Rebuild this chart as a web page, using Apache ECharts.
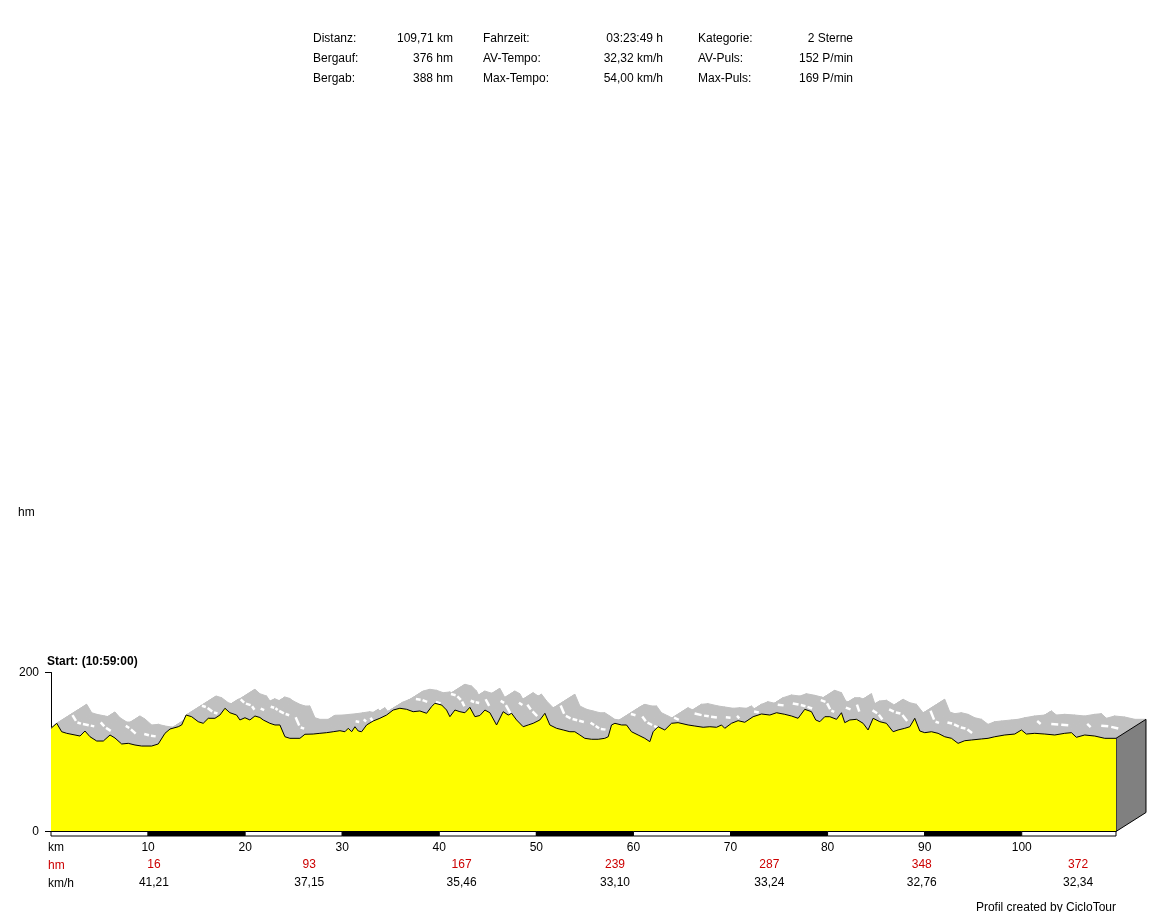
<!DOCTYPE html>
<html>
<head>
<meta charset="utf-8">
<script src="https://cdn.jsdelivr.net/npm/echarts@6/dist/echarts.min.js"></script>
<style>
html,body{margin:0;padding:0;background:#fff;}
#chart{width:1166px;height:912px;}
</style>
</head>
<body>
<div id="chart"></div>
<script>
// ---- data ----
const kmPts = [0, 0.59, 1.10, 1.62, 2.47, 2.99, 3.50, 4.02, 4.71, 5.39,
  6.08, 6.59, 7.28, 7.96, 8.65, 9.34, 10.37, 11.05, 11.74, 12.26,
  13.11, 13.46, 13.92, 14.49, 15.17, 15.68, 16.20, 16.89, 17.40, 17.92,
  18.43, 19.12, 19.46, 19.98, 20.49, 21.01, 21.52, 21.86, 22.55, 23.07,
  23.58, 24.10, 24.61, 25.64, 26.16, 27.01, 27.70, 28.39, 29.07, 29.76,
  30.28, 30.62, 30.97, 31.31, 31.65, 32.00, 32.51, 33.19, 33.88, 34.57,
  35.25, 35.94, 36.63, 37.31, 38.00, 38.69, 39.20, 39.55, 40.24, 40.75,
  41.09, 41.61, 42.12, 42.64, 43.15, 43.67, 44.18, 44.70, 45.21, 45.90,
  46.58, 47.10, 47.45, 47.96, 48.64, 49.16, 49.67, 50.36, 50.88, 51.39,
  52.08, 52.76, 53.45, 53.96, 54.48, 54.99, 55.68, 56.37, 57.05, 57.40,
  57.74, 58.09, 58.77, 59.29, 59.80, 60.48, 61.17, 61.69, 62.03, 62.54,
  63.23, 63.92, 64.60, 65.63, 66.32, 67.18, 67.87, 68.56, 69.07, 69.41,
  70.10, 70.78, 71.47, 72.33, 73.19, 74.05, 74.74, 75.59, 76.28, 76.96,
  77.65, 78.34, 78.78, 79.20, 79.71, 80.23, 80.92, 81.43, 81.77, 82.29,
  82.98, 83.66, 84.17, 84.69, 85.38, 86.06, 86.75, 87.26, 87.95, 88.47,
  88.98, 89.50, 90.01, 90.70, 91.38, 92.07, 92.76, 93.44, 94.13, 94.82,
  95.85, 96.53, 97.22, 98.25, 99.28, 99.97, 100.48, 101.34, 102.37, 103.40,
  104.43, 105.12, 105.63, 106.49, 107.52, 108.55, 109.71];
const hmPts = [129.8, 136.1, 125.5, 123.5, 121.4, 120.1, 126.4, 119.2, 113.8, 113.8,
  121.4, 117.6, 110.1, 110.9, 108.8, 107.5, 107.5, 110.1, 123.5, 128.9,
  131.8, 134.0, 146.5, 144.4, 138.1, 136.1, 142.4, 142.4, 146.5, 155.0,
  149.4, 146.5, 140.3, 143.1, 140.3, 145.3, 143.4, 140.3, 136.1, 134.0,
  134.0, 119.2, 117.2, 117.2, 122.3, 122.6, 123.5, 124.3, 125.5, 126.8,
  125.5, 129.8, 125.5, 131.8, 126.4, 125.5, 134.0, 139.0, 142.4, 146.5,
  152.8, 155.0, 153.7, 150.7, 151.6, 148.7, 157.0, 161.3, 159.1, 152.8,
  144.4, 152.8, 150.7, 149.4, 156.2, 144.4, 145.9, 152.8, 149.4, 134.0,
  150.7, 146.5, 148.7, 140.3, 131.8, 134.0, 136.1, 140.3, 148.7, 134.0,
  129.8, 127.7, 125.5, 125.5, 121.4, 117.2, 116.0, 116.0, 117.2, 119.2,
  134.0, 136.1, 134.0, 134.0, 125.5, 121.4, 117.2, 113.0, 125.5, 131.8,
  127.7, 136.1, 136.9, 134.0, 132.7, 131.1, 131.8, 131.1, 134.0, 129.8,
  136.1, 139.4, 137.4, 144.4, 147.8, 146.5, 149.4, 147.4, 145.3, 142.4,
  153.7, 150.7, 140.3, 138.1, 144.4, 144.4, 141.1, 149.4, 136.9, 140.3,
  141.1, 136.1, 127.7, 142.4, 138.1, 136.1, 125.5, 127.7, 129.8, 131.8,
  142.4, 126.4, 124.3, 125.5, 123.5, 119.2, 117.2, 110.9, 114.2, 115.1,
  116.4, 117.2, 119.2, 121.4, 122.6, 127.7, 122.6, 123.5, 122.6, 121.4,
  123.5, 124.3, 118.5, 121.4, 120.1, 117.2, 117.2];

const totalKm = 109.71;
const kmTicks = [0, 10, 20, 30, 40, 50, 60, 70, 80, 90, 100];
const statKm = [10.6, 26.6, 42.3, 58.1, 74.0, 89.7, 105.8];
const statHm = ['16', '93', '167', '239', '287', '348', '372'];
const statSpeed = ['41,21', '37,15', '35,46', '33,10', '33,24', '32,76', '32,34'];

const headLabels1 = ['Distanz:', 'Bergauf:', 'Bergab:'];
const headValues1 = ['109,71 km', '376 hm', '388 hm'];
const headLabels2 = ['Fahrzeit:', 'AV-Tempo:', 'Max-Tempo:'];
const headValues2 = ['03:23:49 h', '32,32 km/h', '54,00 km/h'];
const headLabels3 = ['Kategorie:', 'AV-Puls:', 'Max-Puls:'];
const headValues3 = ['2 Sterne', '152 P/min', '169 P/min'];

// ---- styling / depth of pseudo-3D ribbon (in data units) ----
const DEPTH_KM = 3.09;
const DEPTH_HM = 23.9;
const FONT = '"Liberation Sans", Arial, sans-serif';

const chart = echarts.init(document.getElementById('chart'), null, {renderer: 'canvas'});

function coordAt(api, k, h, t) {
  return api.coord([k + DEPTH_KM * t, h + DEPTH_HM * t]);
}

const segIdx = kmPts.slice(0, -1).map((_, i) => i);

function renderBand(params, api) {
  const i = params.dataIndex;
  const a = coordAt(api, kmPts[i], hmPts[i], 0);
  const b = coordAt(api, kmPts[i + 1], hmPts[i + 1], 0);
  const b2 = coordAt(api, kmPts[i + 1], hmPts[i + 1], 1);
  const a2 = coordAt(api, kmPts[i], hmPts[i], 1);
  return {
    type: 'polygon',
    shape: {points: [a, b, b2, a2]},
    style: {fill: '#c0c0c0', stroke: '#c0c0c0', lineWidth: 1}
  };
}

function renderStreak(params, api) {
  const i = params.dataIndex;
  const dk = kmPts[i + 1] - kmPts[i];
  const slope = (hmPts[i + 1] - hmPts[i]) / dk;
  if (slope > -0.5) return null;
  const t = 0.5;
  const k0 = kmPts[i] + dk * 0.15, k1 = kmPts[i] + dk * 0.85;
  const h0 = hmPts[i] + (hmPts[i + 1] - hmPts[i]) * 0.15;
  const h1 = hmPts[i] + (hmPts[i + 1] - hmPts[i]) * 0.85;
  const p1 = coordAt(api, k0, h0, t);
  const p2 = coordAt(api, k1, h1, t);
  return {
    type: 'line',
    shape: {x1: p1[0], y1: p1[1], x2: p2[0], y2: p2[1]},
    style: {stroke: '#ffffff', lineWidth: 2.5}
  };
}

function renderFace(params, api) {
  const n = kmPts.length - 1;
  const k = kmPts[n], h = hmPts[n];
  const p1 = coordAt(api, k, 0, 0);
  const p2 = coordAt(api, k, h, 0);
  const p3 = coordAt(api, k, h, 1);
  const p4 = coordAt(api, k, 0, 1);
  return {
    type: 'polygon',
    shape: {points: [p1, p2, p3, p4]},
    style: {fill: '#808080', stroke: '#000', lineWidth: 1}
  };
}

function renderScaleBar(params, api) {
  const i = params.dataIndex;
  const s = kmTicks[i];
  const e = Math.min(s + 10, totalKm);
  const p1 = api.coord([s, 0]);
  const p2 = api.coord([e, 0]);
  return {
    type: 'rect',
    shape: {x: p1[0], y: p1[1], width: p2[0] - p1[0], height: 4.5},
    style: {fill: i % 2 === 0 ? '#ffffff' : '#000000', stroke: '#000', lineWidth: 1}
  };
}

function renderStats(params, api) {
  const i = params.dataIndex;
  const p = api.coord([statKm[i], 0]);
  return {
    type: 'group',
    children: [
      {type: 'text', style: {text: statHm[i], x: p[0], y: p[1] + 33, align: 'center', verticalAlign: 'middle',
        fill: '#cc0000', font: '12px ' + FONT}},
      {type: 'text', style: {text: statSpeed[i], x: p[0], y: p[1] + 51, align: 'center', verticalAlign: 'middle',
        fill: '#000', font: '12px ' + FONT}}
    ]
  };
}

// header table
const headerGraphics = [];
const colLabelX = [313, 483, 698];
const colValueX = [453, 663, 853];
const rowY = [37, 57, 77];
const cols = [[headLabels1, headValues1], [headLabels2, headValues2], [headLabels3, headValues3]];
cols.forEach((c, ci) => {
  c[0].forEach((lab, ri) => {
    headerGraphics.push({type: 'text', left: colLabelX[ci], top: rowY[ri] - 4,
      style: {text: lab, fill: '#000', font: '12px ' + FONT}});
    headerGraphics.push({type: 'text', right: 1166 - colValueX[ci], top: rowY[ri] - 4,
      style: {text: c[1][ri], fill: '#000', font: '12px ' + FONT, align: 'right'}});
  });
});

const option = {
  animation: false,
  backgroundColor: '#ffffff',
  grid: {left: 51, top: 672.5, width: 1065, height: 159, containLabel: false},
  xAxis: {
    type: 'value', min: 0, max: totalKm, interval: 10,
    axisLine: {show: false}, axisTick: {show: false}, splitLine: {show: false},
    axisLabel: {color: '#000', fontSize: 12, fontFamily: FONT, margin: 10, showMaxLabel: false, showMinLabel: false,
      formatter: v => (v === 0 ? '' : String(v))}
  },
  yAxis: {
    type: 'value', min: 0, max: 200, interval: 200,
    axisLine: {show: true, lineStyle: {color: '#000', width: 1}},
    axisTick: {show: true, length: 6, lineStyle: {color: '#000'}},
    splitLine: {show: false},
    axisLabel: {color: '#000', fontSize: 12, fontFamily: FONT, margin: 12}
  },
  graphic: headerGraphics.concat([
    {type: 'text', left: 18, top: 507, style: {text: 'hm', fill: '#000', font: '12px ' + FONT}},
    {type: 'text', left: 47, top: 656, style: {text: 'Start: (10:59:00)', fill: '#000', font: 'bold 12px ' + FONT}},
    {type: 'text', left: 48, top: 842, style: {text: 'km', fill: '#000', font: '12px ' + FONT}},
    {type: 'text', left: 48, top: 860, style: {text: 'hm', fill: '#cc0000', font: '12px ' + FONT}},
    {type: 'text', left: 48, top: 878, style: {text: 'km/h', fill: '#000', font: '12px ' + FONT}},
    {type: 'text', right: 50, top: 902, style: {text: 'Profil created by CicloTour', fill: '#000', font: '12px ' + FONT}}
  ]),
  series: [
    {type: 'custom', name: 'band', renderItem: renderBand, data: segIdx, z: 1, silent: true},
    {type: 'custom', name: 'streaks', renderItem: renderStreak, data: segIdx, z: 2, silent: true},
    {type: 'custom', name: 'face', renderItem: renderFace, data: [0], z: 3, silent: true},
    {
      type: 'line', name: 'profile', z: 5, silent: true,
      data: kmPts.map((k, i) => [k, hmPts[i]]),
      symbol: 'none',
      lineStyle: {color: '#000', width: 1},
      areaStyle: {color: '#ffff00', opacity: 1}
    },
    {type: 'custom', name: 'scalebar', renderItem: renderScaleBar, data: kmTicks.map((_, i) => i), z: 6, silent: true},
    {type: 'custom', name: 'stats', renderItem: renderStats, data: statKm.map((_, i) => i), z: 6, silent: true}
  ]
};
chart.setOption(option);
</script>
</body>
</html>
